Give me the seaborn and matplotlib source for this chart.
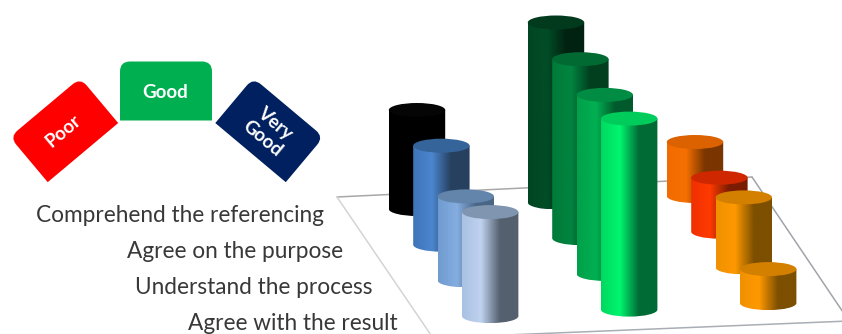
import numpy as np
import matplotlib
matplotlib.use("Agg")
import matplotlib.pyplot as plt
import seaborn as sns
from matplotlib.patches import Ellipse, PathPatch, Polygon
from matplotlib.path import Path
from matplotlib.transforms import Affine2D

# ---- data ----
ratings = ["Poor", "Good", "Very\nGood"]
aspects = ["Comprehend the referencing", "Agree on the purpose",
           "Understand the process", "Agree with the result"]
poor_values = [99, 99, 84, 104]
good_values = [180, 179, 179, 191]
very_good_values = [54, 54, 70, 34]

# ---- style ----
sns.set_theme(style="white")
plt.rcParams["font.family"] = ["Lato", "DejaVu Sans"]

side_colors = [
    [["#000000", "#000000", "#000000"], ["#3f74b8", "#4b86cf", "#27405f"],
     ["#6f9bd0", "#85ade0", "#4a6585"], ["#a9c1e3", "#bfd2ee", "#55606f"]],
    [["#014522", "#014d26", "#012211"], ["#017a38", "#018540", "#013f1f"],
     ["#01a04a", "#01b052", "#015a2c"], ["#00d860", "#00f56e", "#016b35"]],
    [["#f26b00", "#f57000", "#7a3500"], ["#f03000", "#ff3a00", "#7a1c00"],
     ["#f09000", "#ff9900", "#7d4f00"], ["#f09000", "#ff9900", "#7d4f00"]],
]
cap_colors = [
    ["#050505", "#34649a", "#6485ab", "#8096b0"],
    ["#013a1d", "#016a33", "#018c44", "#00cc5c"],
    ["#dc6200", "#cf2800", "#d38000", "#d38000"],
]
badge_colors = ["#fe0000", "#00b050", "#002060"]
badge_angles = [-40, 0, 40]
badge_centers = [(64, 130), (166, 91), (269.5, 130)]
label_lefts = [36, 127, 135, 188]
label_baselines = [222, 258, 294, 330]

fig = plt.figure(figsize=(8.42, 3.34), dpi=100)
ax = fig.add_axes([0, 0, 1, 1])

# floor
floor = [(337, 197), (752, 177), (849, 321), (433, 338)]
ax.add_patch(Polygon(floor, closed=True, fc="white", ec="none", zorder=1))
for (a, b), col in zip([(0, 1), (1, 2), (2, 3), (3, 0)],
                       ["#a8a8a8", "#a0a4a8", "#a8aeb4", "#d4d4d4"]):
    ax.plot([floor[a][0], floor[b][0]], [floor[a][1], floor[b][1]],
            color=col, lw=1.1, zorder=1.5)

# cylinders
RX, RY = 28.2, 7
X0, Y0 = 417, 209
GDX, GDY = 139, -6.5
RDX, RDY = 24.4, 35.7
grad = np.linspace(0, 1, 256)[None, :]


def cylinder(cx, base, h, cols, cap, z):
    top = base - h
    k = 0.5523
    verts = [(cx - RX, top), (cx + RX, top), (cx + RX, base),
             (cx + RX, base + RY * k), (cx + RX * k, base + RY), (cx, base + RY),
             (cx - RX * k, base + RY), (cx - RX, base + RY * k), (cx - RX, base),
             (cx - RX, top)]
    codes = [Path.MOVETO, Path.LINETO, Path.LINETO] + [Path.CURVE4] * 6 + [Path.CLOSEPOLY]
    cmap = sns.blend_palette([cols[0], cols[1], cols[2], cols[2]], as_cmap=True)
    im = ax.imshow(grad, extent=[cx - RX, cx + RX, base + RY, top - RY], cmap=cmap,
                   aspect="auto", interpolation="bilinear", zorder=z)
    im.set_clip_path(PathPatch(Path(verts, codes), transform=ax.transData))
    ax.add_patch(Ellipse((cx, top), 2 * RX, 2 * RY, fc=cap, ec="none", zorder=z + 0.1))


for g, values in enumerate([poor_values, good_values, very_good_values]):
    for r, h in enumerate(values):
        cylinder(X0 + g * GDX + r * RDX, Y0 + g * GDY + r * RDY, h,
                 side_colors[g][r], cap_colors[g][r], 2 + g + r * 0.2)


# rating badges
def badge(center, angle, color, label):
    w, h, rad = 92, 59, 10
    L, R, T, B = -w / 2, w / 2, -h / 2, h / 2
    verts = [(L, B), (L, T + rad), (L, T), (L + rad, T), (R - rad, T), (R, T),
             (R, T + rad), (R, B), (L, B)]
    codes = [Path.MOVETO, Path.LINETO, Path.CURVE3, Path.CURVE3, Path.LINETO,
             Path.CURVE3, Path.CURVE3, Path.LINETO, Path.CLOSEPOLY]
    tr = Affine2D().rotate_deg(angle).translate(*center) + ax.transData
    ax.add_patch(PathPatch(Path(verts, codes), fc=color, ec="none", transform=tr, zorder=8))
    ax.text(center[0] - 1, center[1] + 1, label, color="white", fontsize=13.5, fontweight="bold",
            ha="center", va="center", rotation=-angle, rotation_mode="anchor",
            linespacing=1.15, zorder=9)


for c, a, col, lab in zip(badge_centers, badge_angles, badge_colors, ratings):
    badge(c, a, col, lab)

# row labels
for lab, x, y in zip(aspects, label_lefts, label_baselines):
    ax.text(x, y, lab, fontsize=16.3, color="#383838", ha="left", va="baseline", zorder=10)

ax.set_xlim(0, 842)
ax.set_ylim(334, 0)
ax.axis("off")
fig.savefig("out.png", dpi=100, facecolor="white")
